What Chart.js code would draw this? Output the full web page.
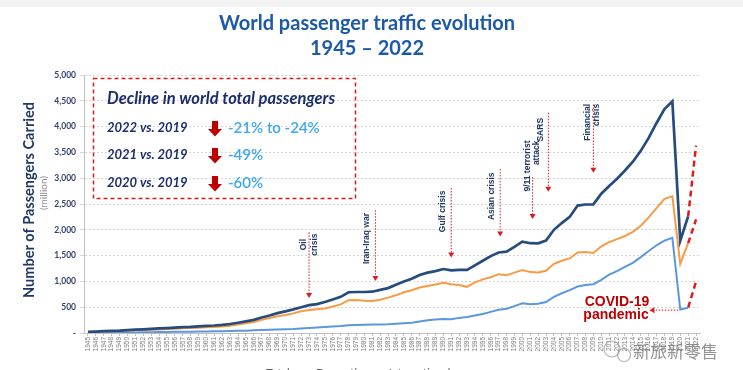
<!DOCTYPE html>
<html><head><meta charset="utf-8">
<script src="https://cdn.jsdelivr.net/npm/chart.js@4.4.1/dist/chart.umd.min.js"></script>
<style>html,body{margin:0;padding:0;background:#fff;overflow:hidden;width:743px;height:370px}
#wrap{position:relative;width:743px;height:389px}</style>
</head><body><div id="wrap"><canvas id="c" width="743" height="389"></canvas></div>
<script>
const years = ['1945','1946','1947','1948','1949','1950','1951','1952','1953','1954',
 '1955','1956','1957','1958','1959','1960','1961','1962','1963','1964',
 '1965','1966','1967','1968','1969','1970','1971','1972','1973','1974',
 '1975','1976','1977','1978','1979','1980','1981','1982','1983','1984',
 '1985','1986','1987','1988','1989','1990','1991','1992','1993','1994',
 '1995','1996','1997','1998','1999','2000','2001','2002','2003','2004',
 '2005','2006','2007','2008','2009','2010','2011','2012','2013','2014',
 '2015','2016','2017','2018','2019','2020','2021','2022'];

const totalPax = [20,28,35,40,45,55,65,72,80,88,
 95,105,112,118,128,138,145,158,175,198,
 225,255,300,340,385,420,457,500,540,560,
 600,650,700,790,795,795,800,835,870,935,
 1000,1050,1125,1170,1200,1240,1215,1225,1222,1310,
 1400,1490,1560,1576,1670,1771,1740,1738,1790,2000,
 2130,2250,2470,2490,2494,2700,2850,2990,3150,3320,
 3530,3780,4070,4340,4490,1790,2260,null];

const domesticPax = [15,22,28,33,37,45,52,58,64,70,
 76,84,90,95,102,110,115,125,140,165,
 190,215,255,290,325,350,380,420,445,460,
 475,515,555,635,640,625,620,645,685,730,
 790,830,880,910,940,975,945,930,895,980,
 1040,1080,1140,1120,1170,1218,1180,1172,1205,1340,
 1400,1445,1560,1570,1550,1680,1760,1820,1880,1960,
 2080,2240,2420,2600,2650,1340,1740,null];

const internationalPax = [5,6,7,8,8,10,12,14,16,18,
 20,22,24,25,27,30,32,35,38,42,
 46,52,58,62,66,72,78,88,98,105,
 115,125,135,150,155,160,165,165,168,180,
 190,200,225,245,260,273,267,293,310,340,
 370,410,450,470,520,574,555,565,600,700,
 770,830,900,930,945,1030,1130,1200,1280,1360,
 1470,1590,1700,1790,1845,455,490,null];

const projYears = ['2021','2022'];
const totalProj = [2260,3630];
const domesticProj = [1740,2200];
const internationalProj = [490,1000];

const seriesNames = ['Total','Domestic','International'];
const yTicks = [0,500,1000,1500,2000,2500,3000,3500,4000,4500,5000];

const declineRows = ['2022 vs. 2019','2021 vs. 2019','2020 vs. 2019'];
const declineValues = ['-21% to -24%','-49%','-60%'];

const eventLabels = [['Oil','crisis'],['Iran-Iraq war'],['Gulf crisis'],['Asian crisis'],['9/11 terrorist','attack'],['SARS'],['Financial','crisis']];
const eventYears = [1973, 1981.4, 1991, 1997.2, 2001.3, 2003.3, 2009];

// ---- layout / style (not data) ----
const NAVY = '#1f3864';
const RED = '#d81e1e';
const EV_LAYOUT = [
  {top:1950, bottom:680,  offs:[-5.5,5.5], mode:'center', at:1713},
  {top:2380, bottom:1010, offs:[-8.7], mode:'center', at:1830},
  {top:2810, bottom:1465, offs:[-8.7], mode:'center', at:2357},
  {top:3180, bottom:1870, offs:[-8.5], mode:'center', at:2650},
  {top:3020, bottom:2210, offs:[-4.5,4.5], mode:'top', at:3730},
  {top:4270, bottom:2735, offs:[-7.3], mode:'center', at:3939},
  {top:4428, bottom:3105, offs:[-5.8,3.7], mode:'top', at:4440}
];

function xOf(chart, year){
  const s = chart.scales.x;
  const i = Math.floor(year) - 1945, f = year - Math.floor(year);
  const p0 = s.getPixelForValue(i), p1 = s.getPixelForValue(i+1);
  return p0 + (p1-p0)*f;
}

const decor = {
  id:'decor',
  beforeDraw(chart){
    const c = chart.ctx;
    c.save();
    c.fillStyle = '#fff'; c.fillRect(0,0,chart.width,chart.height);
    c.fillStyle = '#f3f3f3'; c.fillRect(0,0,chart.width,7);
    c.restore();
  },
  afterDraw(chart){
    const c = chart.ctx, ys = chart.scales.y;
    c.save();
    // title
    c.fillStyle = '#1c5aa8'; c.textAlign = 'center'; c.textBaseline = 'middle';
    c.font = 'bold 20px Lato';
    c.fillText('World passenger traffic evolution', 367, 24);
    c.fillText('1945 \u2013 2022', 367, 49);
    // y title
    c.save();
    c.translate(29, 200); c.rotate(-Math.PI/2);
    c.fillStyle = NAVY; c.font = 'bold 14.5px Lato';
    c.fillText('Number of Passengers Carried', 0, 0);
    c.restore();
    c.save();
    c.translate(44, 193); c.rotate(-Math.PI/2);
    c.fillStyle = '#8a8a8a'; c.font = '10px Lato';
    c.fillText('(million)', 0, 0);
    c.restore();

    // decline box
    c.save();
    c.strokeStyle = RED; c.lineWidth = 1.5; c.setLineDash([4,3]);
    c.strokeRect(93.5, 78.5, 262, 120);
    c.restore();
    c.textAlign = 'left';
    c.fillStyle = '#1a2e6c'; c.font = 'italic bold 16.5px Lato';
    c.fillText('Decline in world total passengers', 107, 99);
    const rowY = [128, 155, 183];
    declineRows.forEach((t,i)=>{
      const y = rowY[i];
      c.fillStyle = '#1a2e6c'; c.font = 'italic bold 13px Lato';
      c.fillText(t, 107, y);
      c.fillStyle = '#c00000';
      c.beginPath();
      c.moveTo(212, y-7); c.lineTo(218, y-7); c.lineTo(218, y+1);
      c.lineTo(222, y+1); c.lineTo(215, y+8.5); c.lineTo(208, y+1); c.lineTo(212, y+1);
      c.closePath(); c.fill();
      c.fillStyle = '#3ea6f2'; c.font = '600 15px Lato';
      c.fillText(declineValues[i], 228, y);
    });

    // event annotations
    eventLabels.forEach((lines,i)=>{
      const L = EV_LAYOUT[i];
      const x = xOf(chart, eventYears[i]);
      const yt = ys.getPixelForValue(L.top), yb = ys.getPixelForValue(L.bottom);
      c.save();
      c.strokeStyle = RED; c.lineWidth = 1; c.setLineDash([1.5,1.5]);
      c.beginPath(); c.moveTo(x, yt); c.lineTo(x, yb-4); c.stroke();
      c.restore();
      c.fillStyle = RED;
      c.beginPath(); c.moveTo(x-3, yb-5); c.lineTo(x+3, yb-5); c.lineTo(x, yb); c.closePath(); c.fill();
      lines.forEach((t,k)=>{
        c.save();
        c.translate(x + L.offs[k], ys.getPixelForValue(L.at));
        c.rotate(-Math.PI/2);
        c.fillStyle = NAVY; c.font = 'bold 8.5px "Liberation Sans"';
        c.textBaseline = 'middle';
        c.textAlign = L.mode === 'top' ? 'right' : 'center';
        c.fillText(t, 0, 0);
        c.restore();
      });
    });

    // COVID-19
    const xc = xOf(chart, 2020), xe = xOf(chart, 2016.1);
    const yc = ys.getPixelForValue(443);
    c.save();
    c.strokeStyle = RED; c.lineWidth = 1; c.setLineDash([1.5,1.5]);
    c.beginPath(); c.moveTo(xc-2, yc); c.lineTo(xe+4, yc); c.stroke();
    c.restore();
    c.fillStyle = RED;
    c.beginPath(); c.moveTo(xe+5, yc-3); c.lineTo(xe+5, yc+3); c.lineTo(xe, yc); c.closePath(); c.fill();
    c.fillStyle = '#c00000'; c.font = 'bold 14px "Liberation Sans"'; c.textAlign = 'center';
    c.fillText('COVID-19', 617, 302);
    c.fillText('pandemic', 616, 315);

    // watermark
    c.globalAlpha = 0.75;
    c.strokeStyle = '#9a9a9a'; c.lineWidth = 1.2;
    c.beginPath(); c.arc(612, 349, 8, 0, Math.PI*2); c.stroke();
    c.beginPath(); c.arc(624, 355, 6.5, 0, Math.PI*2); c.stroke();
    c.fillStyle = '#707070'; c.font = '17px "Noto Sans CJK SC"'; c.textAlign = 'left';
    c.fillText('新旅新零售', 633, 352);
    c.restore();
  }
};

new Chart(document.getElementById('c'), {
  type:'line',
  data:{
    labels: years,
    datasets:[
      {label:seriesNames[0], data: totalPax, borderColor:'#264c7e', backgroundColor:'#264c7e', borderWidth:2.7, pointRadius:0, tension:0},
      {label:seriesNames[1], data: domesticPax, borderColor:'#f79b45', backgroundColor:'#f79b45', borderWidth:2, pointRadius:0, tension:0},
      {label:seriesNames[2], data: internationalPax, borderColor:'#5b97dd', backgroundColor:'#5b97dd', borderWidth:2, pointRadius:0, tension:0},
      {label:'p1', data: projYears.map((y,i)=>({x:y, y:totalProj[i]})), borderColor:RED, borderDash:[6,4], borderWidth:2.5, pointRadius:0},
      {label:'p2', data: projYears.map((y,i)=>({x:y, y:domesticProj[i]})), borderColor:RED, borderDash:[6,4], borderWidth:2.5, pointRadius:0},
      {label:'p3', data: projYears.map((y,i)=>({x:y, y:internationalProj[i]})), borderColor:RED, borderDash:[6,4], borderWidth:2.5, pointRadius:0}
    ]
  },
  options:{
    responsive:false, animation:false,
    layout:{padding:{top:75, right:43, left:0, bottom:0}},
    plugins:{
      title:{display:false}, tooltip:{enabled:false},
      legend:{display:true, position:'bottom',
        labels:{filter:(it)=>it.datasetIndex<3, usePointStyle:true, pointStyle:'line', color:'#595959', font:{size:11, family:'Lato'}, padding:10}}
    },
    scales:{
      x:{type:'category', offset:true,
        grid:{display:true, drawOnChartArea:false, drawTicks:true, tickLength:3, color:'#bfbfbf'},
        border:{color:'#bfbfbf', width:1},
        ticks:{autoSkip:false, maxRotation:90, minRotation:90, color:'#808080', font:{size:6.5, family:'Liberation Sans'}, padding:1},
        afterFit(s){ s.height = 25; }
      },
      y:{min:0, max:5000,
        afterBuildTicks(s){ s.ticks = yTicks.map(v=>({value:v})); },
        grid:{color:'#d6d6d6', tickLength:4, lineWidth:1},
        border:{color:'#bfbfbf', width:1, dash:[2,2]},
        ticks:{color:'#34416a', font:{size:8.5, weight:'bold', family:'Lato'}, padding:4,
          callback:(v)=> v===0 ? '-' : v.toLocaleString('en-US')},
        afterFit(s){ s.width = 84; }
      }
    }
  },
  plugins:[decor]
});
</script>
</body></html>
